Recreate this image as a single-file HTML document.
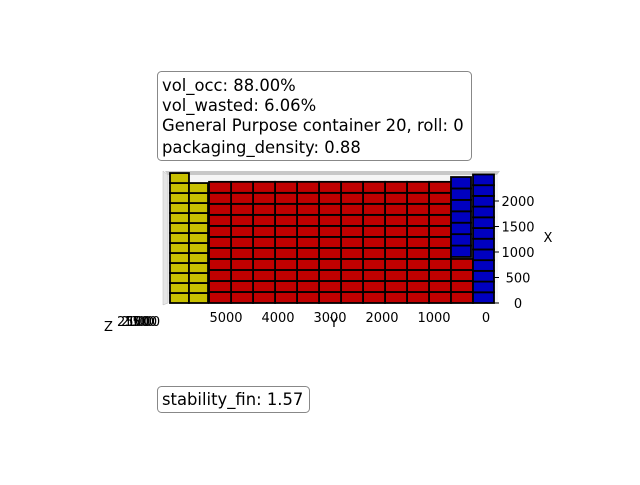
<!DOCTYPE html>
<html><head><meta charset="utf-8"><style>
body{margin:0;background:#fff;}
svg{font-family:"DejaVu Sans","Liberation Sans",sans-serif;}
</style></head><body>
<svg id="chart" width="640" height="480" viewBox="0 0 640 480">
<rect width="640" height="480" fill="#fff"/>
<g>
<polygon points="165,171 500,171 497,175 168,175" fill="#c8c8c8"/>
<rect x="168" y="175" width="330" height="128" fill="#f6f6f6"/>
<polygon points="163,171 168,175 168,303 163,305" fill="#e6e6e6" stroke="#bbb" stroke-width="0.5"/>
</g>
<g id="boxes"></g>
<g id="ticks"></g>
<text x="334" y="327" font-size="13" text-anchor="middle">Y</text>
<text x="548" y="242" font-size="13" text-anchor="middle">X</text>
<text x="104" y="331" font-size="13">Z</text>
<g font-size="13">
<text x="117" y="326">2500</text><text x="121" y="326">2000</text><text x="124" y="326">1500</text><text x="127" y="326">1000</text>
</g>
<g>
<rect x="157.5" y="71.5" width="314" height="89" rx="4" fill="#fff" stroke="#888"/>
<text x="162" y="91" font-size="16.4">vol_occ: 88.00%</text>
<text x="162" y="111" font-size="16.4">vol_wasted: 6.06%</text>
<text x="162" y="131" font-size="16.4">General Purpose container 20, roll: 0</text>
<text x="162" y="153" font-size="16.4">packaging_density: 0.88</text>
</g>
<g>
<rect x="157.5" y="386.5" width="152" height="26" rx="4" fill="#fff" stroke="#888"/>
<text x="162" y="405" font-size="16.4">stability_fin: 1.57</text>
</g>
</svg>
<script>
const groupColor=["#c8c000","#c8c000","#c00000","#c00000","#0000c0","#0000c0"];
const groupYStart=[5712,5346,673,250,288,-154];
const groupYLen=[365,366,423,423,385,404];
const groupXBase=[0,0,0,0,902,0];
const groupBoxH=[196,196,216,216,224,210];
const groupCount=[13,12,11,4,7,12];
const groupCols=[1,1,11,1,1,1];
const yTicks=[5000,4000,3000,2000,1000,0];
const xTicks=[2000,1500,1000,500,0];
function px(y){return 486-y*0.052;}
function py(x){return 303-x*0.051;}
const NS="http://www.w3.org/2000/svg";
const bg=document.getElementById('boxes');
for(let g=0;g<groupColor.length;g++){
  for(let c=0;c<groupCols[g];c++){
    const y0=groupYStart[g]+c*groupYLen[g];
    for(let r=0;r<groupCount[g];r++){
      const x0=groupXBase[g]+r*groupBoxH[g];
      const rect=document.createElementNS(NS,'rect');
      const left=px(y0+groupYLen[g]),right=px(y0);
      const top=py(x0+groupBoxH[g]),bot=py(x0);
      rect.setAttribute('x',left);rect.setAttribute('y',top);
      rect.setAttribute('width',right-left);rect.setAttribute('height',bot-top);
      rect.setAttribute('fill',groupColor[g]);rect.setAttribute('stroke','#000');rect.setAttribute('stroke-width','1.8');
      
      
      bg.appendChild(rect);
    }
  }
}
const tg=document.getElementById('ticks');
yTicks.forEach(v=>{
  const t=document.createElementNS(NS,'text');
  t.setAttribute('x',px(v));t.setAttribute('y',322);t.setAttribute('font-size','13');t.setAttribute('text-anchor','middle');
  t.textContent=v;
  
  
  tg.appendChild(t);
});
xTicks.forEach(v=>{
  const t=document.createElementNS(NS,'text');
  t.setAttribute('x',518);t.setAttribute('y',py(v)+5);t.setAttribute('font-size','13');t.setAttribute('text-anchor','middle');
  t.textContent=v;
  
  
  tg.appendChild(t);
  const l=document.createElementNS(NS,'line');
  l.setAttribute('x1',494);l.setAttribute('x2',499);l.setAttribute('y1',py(v));l.setAttribute('y2',py(v));l.setAttribute('stroke','#000');
  
  
  tg.appendChild(l);
});
</script>
</body></html>
